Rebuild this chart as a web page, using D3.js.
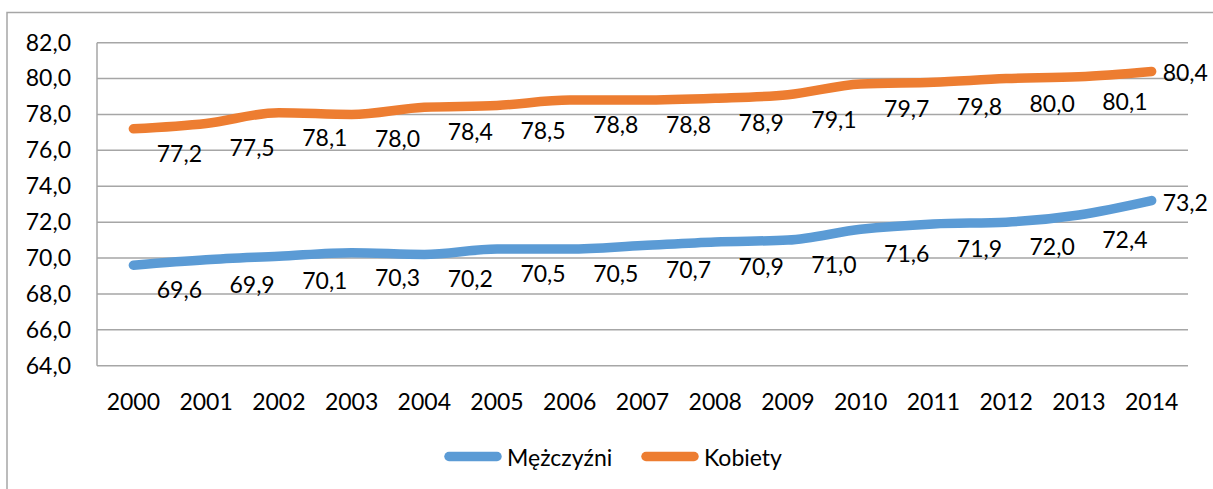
<!DOCTYPE html>
<html>
<head>
<meta charset="utf-8">
<script src="https://cdn.jsdelivr.net/npm/d3@7"></script>
<style>
  html, body { margin: 0; padding: 0; background: #fff; }
  svg { display: block; }
  text { font-family: Lato, "Open Sans", sans-serif; fill: #000; }
</style>
</head>
<body>
<svg id="chart" width="1213" height="489"></svg>
<script>
// Life expectancy at birth, 2000–2014
const years = ["2000","2001","2002","2003","2004","2005","2006","2007","2008","2009","2010","2011","2012","2013","2014"];
const men   = [69.6, 69.9, 70.1, 70.3, 70.2, 70.5, 70.5, 70.7, 70.9, 71.0, 71.6, 71.9, 72.0, 72.4, 73.2];
const women = [77.2, 77.5, 78.1, 78.0, 78.4, 78.5, 78.8, 78.8, 78.9, 79.1, 79.7, 79.8, 80.0, 80.1, 80.4];
const yTicks = [64, 66, 68, 70, 72, 74, 76, 78, 80, 82];
const seriesNames = ["Mężczyźni", "Kobiety"];
const seriesColors = ["#5B9BD5", "#ED7D31"];

const FONT = 23;
const fmt = v => d3.format(".1f")(v).replace(".", ",");

const svg = d3.select("#chart");
const plot = { left: 97, right: 1188, top: 42.7, bottom: 365.7 };

// outer frame (top and left edges)
svg.append("path")
  .attr("d", "M7,489 V12.5 H1213")
  .attr("fill", "none")
  .attr("stroke", "#a6a6a6")
  .attr("stroke-width", 1.5);

const x = d3.scaleBand().domain(years).range([plot.left, plot.right]).padding(0);
const y = d3.scaleLinear().domain([64, 82]).range([plot.bottom, plot.top]);
const cx = d => x(d) + x.bandwidth() / 2;

// horizontal gridlines
svg.append("g")
  .selectAll("line")
  .data(yTicks)
  .join("line")
  .attr("x1", plot.left).attr("x2", plot.right)
  .attr("y1", d => y(d)).attr("y2", d => y(d))
  .attr("stroke", "#a6a6a6")
  .attr("stroke-width", 1.5);

// value axis line
svg.append("line")
  .attr("x1", plot.left).attr("x2", plot.left)
  .attr("y1", plot.top).attr("y2", plot.bottom)
  .attr("stroke", "#a6a6a6").attr("stroke-width", 1.5);

// y axis labels
const yAxis = d3.axisLeft(y).tickValues(yTicks).tickFormat(fmt).tickSize(0).tickPadding(26);
const gy = svg.append("g").attr("transform", `translate(${plot.left},0)`).call(yAxis);
gy.select(".domain").remove();
gy.selectAll("text").attr("font-size", FONT).attr("font-family", "Lato, sans-serif").attr("fill", "#000");

// x axis labels
const xAxis = d3.axisBottom(x).tickSize(0).tickPadding(0);
const gx = svg.append("g").attr("transform", `translate(0,${plot.bottom})`).call(xAxis);
gx.select(".domain").remove();
gx.selectAll("text")
  .attr("font-size", FONT).attr("font-family", "Lato, sans-serif").attr("fill", "#000")
  .attr("dy", null).attr("y", 35).attr("dominant-baseline", "central");

const line = d3.line()
  .x((d, i) => cx(years[i]))
  .y(d => y(d))
  .curve(d3.curveMonotoneX);

const series = [men, women];
series.forEach((vals, s) => {
  svg.append("path")
    .datum(vals)
    .attr("d", line)
    .attr("fill", "none")
    .attr("stroke", seriesColors[s])
    .attr("stroke-width", 9.5)
    .attr("stroke-linecap", "round")
    .attr("stroke-linejoin", "round");

  // data labels: below-right of each point, last one to the right
  svg.append("g")
    .selectAll("text")
    .data(vals)
    .join("text")
    .attr("font-size", FONT)
    .attr("dominant-baseline", "central")
    .attr("text-anchor", (d, i) => i === vals.length - 1 ? "start" : "middle")
    .attr("x", (d, i) => i === vals.length - 1 ? cx(years[i]) + 11 : cx(years[i]) + 46)
    .attr("y", (d, i) => i === vals.length - 1 ? y(d) + 1 : y(d) + 24)
    .text(fmt);
});

// legend
const legendItems = [
  { name: seriesNames[0], color: seriesColors[0], x0: 445 },
  { name: seriesNames[1], color: seriesColors[1], x0: 642 }
];
const lg = svg.append("g");
legendItems.forEach(it => {
  lg.append("line")
    .attr("x1", it.x0 + 4).attr("x2", it.x0 + 52)
    .attr("y1", 456.5).attr("y2", 456.5)
    .attr("stroke", it.color).attr("stroke-width", 9.5)
    .attr("stroke-linecap", "round");
  lg.append("text")
    .attr("x", it.x0 + 62).attr("y", 456.5)
    .attr("dominant-baseline", "central")
    .attr("font-size", FONT)
    .text(it.name);
});
</script>
</body>
</html>
